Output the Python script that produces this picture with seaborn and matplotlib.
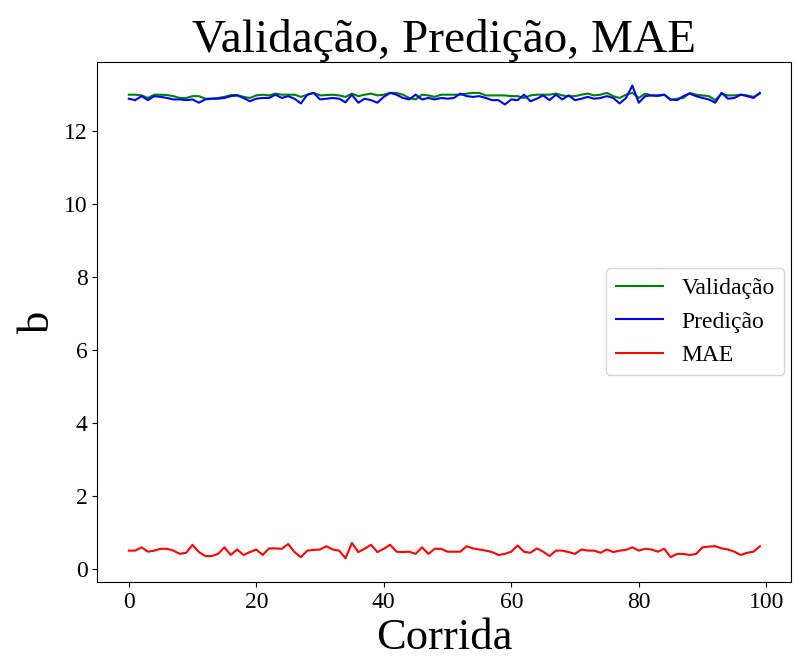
import pandas as pd
import matplotlib
matplotlib.use("Agg")
import matplotlib.pyplot as plt
import seaborn as sns

# Values (100 runs)
corrida = list(range(100))

validacao = [
    13.01, 13.01, 12.99, 12.92, 13.01, 13.01, 13.00, 12.97, 12.92, 12.92,
    12.97, 12.97, 12.90, 12.90, 12.92, 12.95, 13.00, 13.00, 12.95, 12.92,
    12.99, 13.01, 12.99, 13.04, 13.01, 13.01, 13.01, 12.95, 13.01, 13.06,
    12.99, 13.00, 13.01, 12.99, 12.95, 13.04, 12.97, 13.01, 13.04, 12.99,
    13.01, 13.06, 13.06, 13.01, 12.92, 12.88, 13.01, 12.99, 12.95, 13.01,
    13.01, 13.01, 13.01, 13.04, 13.06, 13.06, 12.99, 12.99, 12.99, 12.99,
    12.97, 12.97, 12.92, 12.99, 13.01, 13.01, 13.01, 13.04, 12.99, 12.97,
    12.97, 13.01, 13.04, 12.99, 13.01, 13.06, 12.97, 12.92, 13.01, 13.06,
    12.92, 13.04, 12.99, 12.97, 13.01, 12.86, 12.90, 12.92, 13.06, 13.01,
    12.99, 12.97, 12.86, 13.04, 12.99, 12.99, 13.01, 12.99, 12.95, 13.04,
]

predicao = [
    12.90, 12.86, 12.97, 12.86, 12.97, 12.95, 12.92, 12.88, 12.88, 12.86,
    12.88, 12.79, 12.88, 12.90, 12.90, 12.92, 12.97, 12.99, 12.92, 12.83,
    12.90, 12.92, 12.92, 13.01, 12.92, 12.97, 12.90, 12.77, 13.01, 13.06,
    12.88, 12.90, 12.92, 12.90, 12.80, 13.01, 12.79, 12.90, 12.86, 12.79,
    12.95, 13.06, 13.01, 12.92, 12.88, 13.01, 12.88, 12.92, 12.88, 12.92,
    12.90, 12.92, 13.04, 12.97, 12.95, 12.97, 12.92, 12.86, 12.86, 12.74,
    12.88, 12.86, 13.01, 12.83, 12.90, 12.99, 12.86, 13.01, 12.88, 12.99,
    12.86, 12.90, 12.95, 12.90, 12.92, 12.97, 12.92, 12.77, 12.92, 13.26,
    12.79, 12.97, 12.99, 12.99, 13.01, 12.88, 12.86, 12.97, 13.04, 12.97,
    12.92, 12.88, 12.79, 13.06, 12.90, 12.92, 13.01, 12.97, 12.92, 13.06,
]

mae = [
    0.50, 0.50, 0.59, 0.47, 0.50, 0.55, 0.55, 0.50, 0.41, 0.44,
    0.66, 0.46, 0.35, 0.35, 0.41, 0.59, 0.38, 0.53, 0.38, 0.46,
    0.53, 0.38, 0.56, 0.56, 0.55, 0.68, 0.46, 0.32, 0.50, 0.52,
    0.53, 0.62, 0.53, 0.50, 0.29, 0.71, 0.46, 0.55, 0.66, 0.46,
    0.55, 0.66, 0.47, 0.46, 0.47, 0.41, 0.59, 0.41, 0.55, 0.55,
    0.47, 0.47, 0.47, 0.62, 0.56, 0.53, 0.50, 0.46, 0.38, 0.41,
    0.47, 0.64, 0.47, 0.44, 0.56, 0.47, 0.35, 0.50, 0.50, 0.46,
    0.41, 0.53, 0.50, 0.50, 0.44, 0.53, 0.46, 0.50, 0.52, 0.59,
    0.50, 0.55, 0.53, 0.47, 0.55, 0.32, 0.41, 0.41, 0.38, 0.41,
    0.59, 0.61, 0.62, 0.56, 0.53, 0.47, 0.38, 0.44, 0.47, 0.62,
]

series_names = ["Validação", "Predição", "MAE"]
series_colors = ["green", "blue", "red"]

df = pd.concat([
    pd.DataFrame({"Corrida": corrida, "b": validacao, "serie": series_names[0]}),
    pd.DataFrame({"Corrida": corrida, "b": predicao, "serie": series_names[1]}),
    pd.DataFrame({"Corrida": corrida, "b": mae, "serie": series_names[2]}),
])

plt.rcParams["font.family"] = ["Liberation Serif", "DejaVu Serif"]

fig, ax = plt.subplots(figsize=(7.97, 6.59), dpi=100)
sns.lineplot(data=df, x="Corrida", y="b", hue="serie",
             palette=dict(zip(series_names, series_colors)),
             linewidth=1.5, ax=ax)

ax.set_title("Validação, Predição, MAE", fontsize=34)
ax.set_xlabel("Corrida", fontsize=32)
ax.set_ylabel("b", fontsize=32)
ax.tick_params(labelsize=17)
ax.legend(loc="center right", fontsize=17, borderaxespad=0.3)

fig.subplots_adjust(left=0.122, right=0.993, top=0.906, bottom=0.117)
fig.savefig("out.png", dpi=100)
